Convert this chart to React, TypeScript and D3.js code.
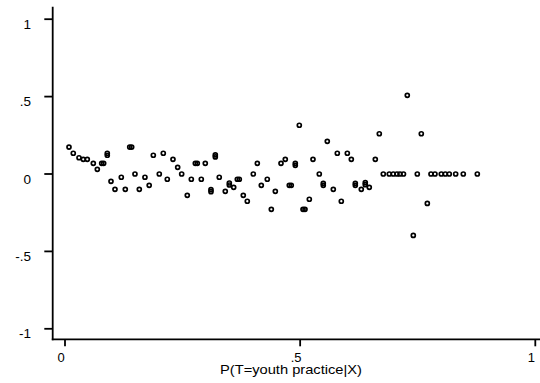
import React from 'react';
import * as d3 from 'd3';

// propensity score vs residual
const pScore = [
  0.0085, 0.0176, 0.0298, 0.0389, 0.0474, 0.0602, 0.0687, 0.078, 0.0822, 0.0899,
  0.0899, 0.0978, 0.1063, 0.1197, 0.1282, 0.1376, 0.1418, 0.1488, 0.158, 0.17,
  0.179, 0.1878, 0.2005, 0.209, 0.2175, 0.2296, 0.2396, 0.2481, 0.26, 0.2686,
  0.2771, 0.2813, 0.2898, 0.2983, 0.3104, 0.3104, 0.3196, 0.3196, 0.328, 0.3408,
  0.3494, 0.3494, 0.3587, 0.3664, 0.3706, 0.3791, 0.3876, 0.4004, 0.4089, 0.4174,
  0.4301, 0.4387, 0.4472, 0.4593, 0.4684, 0.4769, 0.4811, 0.4897, 0.4897, 0.4982,
  0.5061, 0.5103, 0.5195, 0.5273, 0.5407, 0.5492, 0.5492, 0.5577, 0.5705, 0.579,
  0.5875, 0.6003, 0.6088, 0.6173, 0.6173, 0.63, 0.6385, 0.6385, 0.647, 0.6598,
  0.6683, 0.6768, 0.6895, 0.698, 0.7059, 0.7123, 0.7197, 0.7278, 0.7406, 0.7491,
  0.7576, 0.7704, 0.7782, 0.7867, 0.8001, 0.8086, 0.8171, 0.8307, 0.8469, 0.8767,
];
const resid = [
  0.174, 0.134, 0.105, 0.095, 0.095, 0.069, 0.03, 0.069, 0.069, 0.134,
  0.121, -0.047, -0.099, -0.021, -0.099, 0.174, 0.174, 0, -0.099, -0.021,
  -0.073, 0.121, 0, 0.134, -0.034, 0.095, 0.043, 0, -0.138, -0.034,
  0.069, 0.069, -0.034, 0.069, -0.101, -0.114, 0.123, 0.11, -0.021, -0.112,
  -0.058, -0.071, -0.086, -0.034, -0.034, -0.138, -0.176, 0, 0.069, -0.073,
  -0.034, -0.228, -0.112, 0.069, 0.095, -0.073, -0.073, 0.069, 0.056, 0.315,
  -0.228, -0.228, -0.163, 0.095, 0, -0.06, -0.073, 0.211, -0.099, 0.134,
  -0.176, 0.134, 0.095, -0.06, -0.073, -0.099, -0.056, -0.069, -0.086, 0.095,
  0.26, 0, 0, 0, 0, 0, 0, 0.508, -0.397, 0,
  0.26, -0.19, 0, 0, 0, 0, 0, 0, 0, 0,
];

const xTicks = [0, 0.5, 1];
const xTickLabels = ['0', '.5', '1'];
const yTicks = [-1, -0.5, 0, 0.5, 1];
const yTickLabels = ['-1', '-.5', '0', '.5', '1'];
const xTitle = 'P(T=youth practice|X)';

export default function App() {
  const W = 540, H = 383;
  const x = d3.scaleLinear().domain([0, 1]).range([65, 535.3]);
  const y = d3.scaleLinear().domain([-1, 1]).range([328.8, 19.2]);
  const axX = 52.7, axY = 339.3;
  const font = '"Liberation Sans", Arial, sans-serif';

  return (
    <svg width={W} height={H} style={{ position: 'absolute', left: 0, top: 0, background: '#fff' }}>
      {/* axes */}
      <line x1={axX} x2={axX} y1={6.7} y2={axY + 0.9} stroke="#000" strokeWidth={1.8} />
      <line x1={axX - 0.9} x2={W} y1={axY} y2={axY} stroke="#000" strokeWidth={1.8} />
      {yTicks.map((t, i) => (
        <g key={'y' + i}>
          <line x1={axX - 8.4} x2={axX} y1={y(t)} y2={y(t)} stroke="#000" strokeWidth={1.8} />
          <text x={31} y={y(t) + 9.6} textAnchor="end" fontFamily={font} fontSize={13.5} fill="#000">
            {yTickLabels[i]}
          </text>
        </g>
      ))}
      {xTicks.map((t, i) => (
        <g key={'x' + i}>
          <line x1={x(t)} x2={x(t)} y1={axY} y2={axY + 7} stroke="#000" strokeWidth={1.8} />
          <text x={x(t) - 4} y={361.8} textAnchor="middle" fontFamily={font} fontSize={13} fill="#000">
            {xTickLabels[i]}
          </text>
        </g>
      ))}
      <text x={291} y={374} textAnchor="middle" fontFamily={font} fontSize={13.5}
        textLength={142} lengthAdjust="spacingAndGlyphs" fill="#000">
        {xTitle}
      </text>
      {/* points */}
      {pScore.map((p, i) => (
        <circle key={i} cx={x(p)} cy={y(resid[i])} r={2} fill="none" stroke="#000" strokeWidth={1.7} />
      ))}
    </svg>
  );
}
